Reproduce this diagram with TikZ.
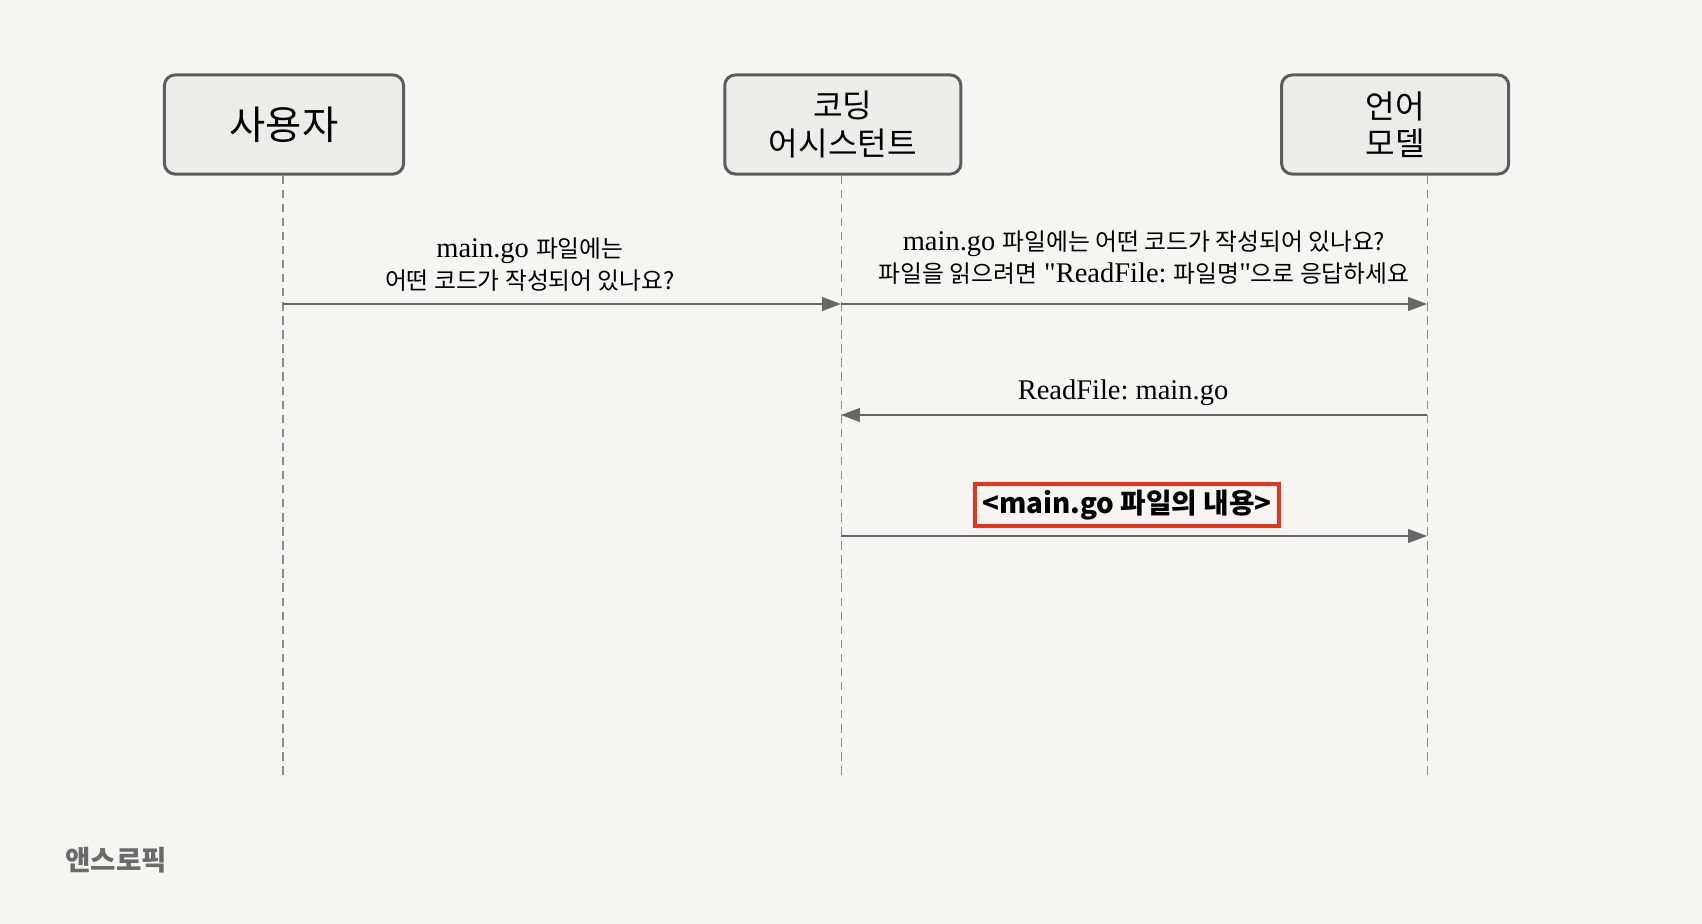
\documentclass[tikz,border=0pt]{standalone}
\usepackage{fontspec}
\setmainfont{Liberation Serif}
\newfontfamily\latin{Liberation Serif}
\newfontfamily\kr{Noto Sans CJK KR}
\newfontfamily\krs{Noto Sans CJK KR}[Scale=0.835]
\usetikzlibrary{arrows.meta, positioning}
\frenchspacing

\definecolor{paper}{HTML}{F6F5F1}
\definecolor{boxfill}{HTML}{EDECE9}
\definecolor{boxline}{HTML}{5C5C5C}
\definecolor{lifegray}{HTML}{8C8C8C}
\definecolor{msggray}{HTML}{666666}
\definecolor{hired}{HTML}{E8341C}
\definecolor{footgray}{HTML}{6A6A6A}

\begin{document}
\begin{tikzpicture}[x=0.01cm, y=-0.01cm,
		actor/.style={draw=boxline, fill=boxfill, line width=0.85pt, rounded corners=3pt,
			minimum height=0.99cm, align=center, font=\kr\fontsize{9.15}{10.6}\selectfont},
		life/.style={draw=lifegray, line width=0.4pt, dash pattern=on 2.4pt off 1.6pt},
		msg/.style={draw=msggray, line width=0.6pt, -{Triangle[length=5.4pt, width=3.9pt]}, fill=msggray},
		msgtext/.style={align=center, text=black, font=\latin\frenchspacing\fontsize{8.1}{9.1}\selectfont},
		marked/.style={draw=hired, line width=1.1pt, fill=paper, inner xsep=2pt, inner ysep=1.7pt,
			font=\kr\bfseries\fontsize{7.9}{9}\selectfont}
		]
		\fill[paper] (0,0) rectangle (1702,924);
		\useasboundingbox (0,0) rectangle (1702,924);

		\node[actor, minimum width=2.39cm, font=\kr\fontsize{11.2}{13}\selectfont] (P1) at (284,124.5) {사용자};
		\node[actor, minimum width=2.36cm, right of = P1, node distance=5.585cm] (P2) {코딩\\어시스턴트};
		\node[actor, minimum width=2.27cm, right of = P2, node distance=5.52cm] (P3) {언어\\모델};

		% lifelines
		\coordinate (T1) at ([xshift=-0.01cm]P1.south);
		\coordinate (T2) at ([xshift=-0.015cm]P2.south);
		\coordinate (T3) at ([xshift=0.325cm]P3.south);
		\coordinate (B1) at ([yshift=-6.04cm]T1);
		\coordinate (B2) at ([yshift=-6.04cm]T2);
		\coordinate (B3) at ([yshift=-6.04cm]T3);
		\draw[life] (T1) -- (B1);
		\draw[life] (T2) -- (B2);
		\draw[life] (T3) -- (B3);

		% messages
		\coordinate (U1) at (283,304);
		\coordinate (A1) at (841,304);
		\coordinate (M1) at (1427,304);
		\coordinate (A2) at (841,415);
		\coordinate (M2) at (1427,415);
		\coordinate (A3) at (841,536);
		\coordinate (M3) at (1427,536);

		\draw[msg] (U1) -- (A1) node [midway, above, msgtext, xshift=-0.32cm, yshift=0cm]
		{main.go {\krs 파일에는}\\{\krs 어떤 코드가 작성되어 있나요?}};
		\draw[msg] (A1) -- (M1) node [midway, above, msgtext, xshift=0.1cm, yshift=0.065cm]
		{main.go {\krs 파일에는 어떤 코드가 작성되어 있나요?}\\{\krs 파일을 읽으려면} "ReadFile: {\krs 파일명}"{\krs 으로 응답하세요}};
		\draw[msg] (M2) -- (A2) node [midway, above, msgtext, xshift=-0.11cm, yshift=-0.035cm]
		{ReadFile: main.go};
		\draw[msg] (A3) -- (M3) node [midway, above, marked, xshift=-0.07cm, yshift=0.08cm]
		(C3) {<main.go 파일의 내용>};

		\node[font=\kr\bfseries\fontsize{7.85}{9}\selectfont, text=footgray, anchor=west] (F) at (53,860) {앤스로픽};
\end{tikzpicture}
\end{document}
